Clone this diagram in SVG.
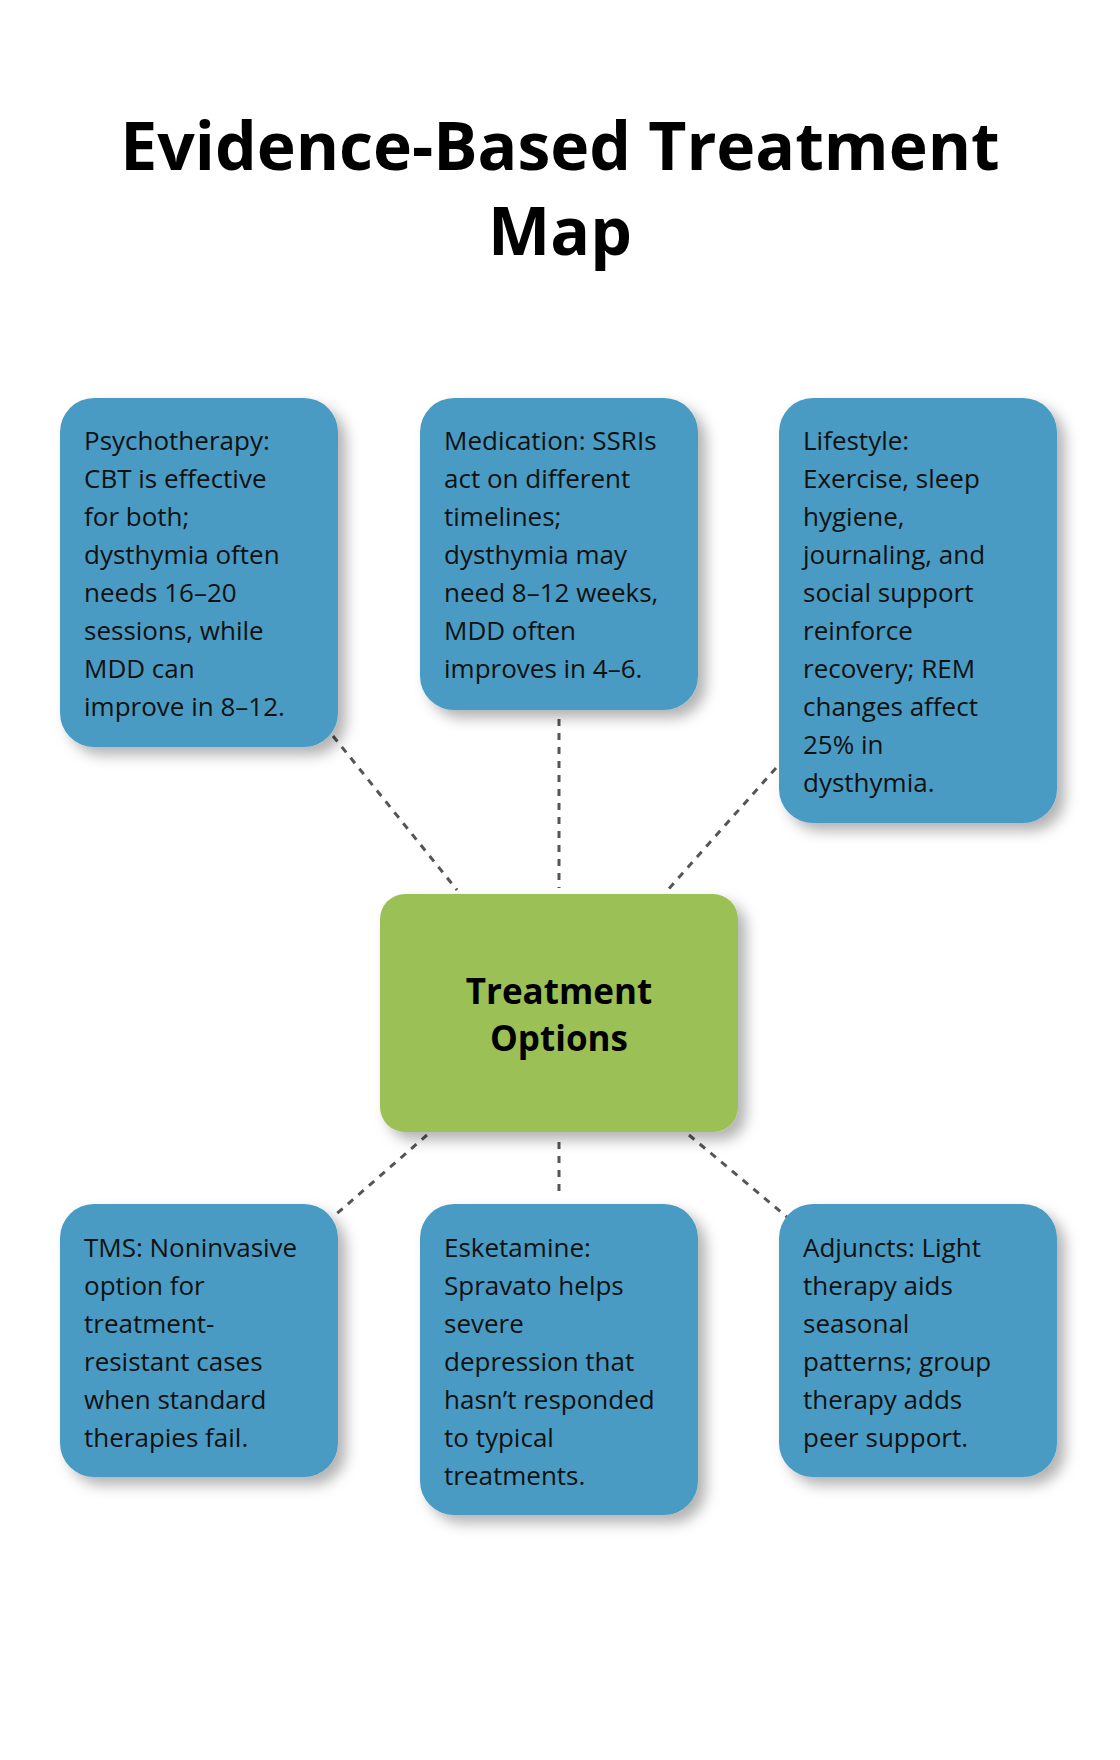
<svg xmlns="http://www.w3.org/2000/svg" width="1120" height="1760" viewBox="0 0 1120 1760">
<style>
.t{font-family:"Open Sans","Noto Sans",sans-serif;}
.title{font-size:66px;font-weight:bold;fill:#000;text-anchor:middle;}
.box{fill:#4A9BC4;filter:url(#sh);}
.ctr{fill:#9BC057;filter:url(#sh);}
.lbl{font-size:26px;fill:#111;}
.cl{font-size:35px;font-weight:bold;fill:#000;text-anchor:middle;}
.con{stroke:#555;stroke-width:3;stroke-dasharray:7 7;fill:none;}
</style>
<defs>
<filter id="sh" x="-20%" y="-20%" width="140%" height="140%">
<feDropShadow dx="8" dy="8" stdDeviation="7" flood-color="#000" flood-opacity="0.3"/>
</filter>
</defs>
<rect width="1120" height="1760" fill="#fff"/>
<g id="title" class="t title"><text x="560" y="170">Evidence-Based Treatment</text><text x="560" y="255">Map</text></g>
<g id="connectors">
<line class="con" x1="333" y1="736" x2="457" y2="890"/>
<line class="con" x1="559" y1="719" x2="559" y2="888"/>
<line class="con" x1="776" y1="768" x2="665" y2="893"/>
<line class="con" x1="427" y1="1135" x2="333" y2="1217"/>
<line class="con" x1="559" y1="1142" x2="559" y2="1196"/>
<line class="con" x1="689" y1="1135" x2="787" y2="1217"/>
</g>
<g id="center"><rect class="ctr" x="380" y="894" width="358" height="238" rx="25"/>
<text class="t cl" x="559" y="1004">Treatment</text><text class="t cl" x="559" y="1051">Options</text></g>
<g id="psychotherapy"><rect class="box" x="60" y="398" width="278" height="349" rx="34"/>
<text class="t lbl"><tspan x="84" y="450">Psychotherapy:</tspan><tspan x="84" dy="38">CBT is effective</tspan><tspan x="84" dy="38">for both;</tspan><tspan x="84" dy="38">dysthymia often</tspan><tspan x="84" dy="38">needs 16–20</tspan><tspan x="84" dy="38">sessions, while</tspan><tspan x="84" dy="38">MDD can</tspan><tspan x="84" dy="38">improve in 8–12.</tspan></text></g>
<g id="medication"><rect class="box" x="420" y="398" width="278" height="312" rx="34"/>
<text class="t lbl"><tspan x="444" y="450">Medication: SSRIs</tspan><tspan x="444" dy="38">act on different</tspan><tspan x="444" dy="38">timelines;</tspan><tspan x="444" dy="38">dysthymia may</tspan><tspan x="444" dy="38">need 8–12 weeks,</tspan><tspan x="444" dy="38">MDD often</tspan><tspan x="444" dy="38">improves in 4–6.</tspan></text></g>
<g id="lifestyle"><rect class="box" x="779" y="398" width="278" height="425" rx="34"/>
<text class="t lbl"><tspan x="803" y="450">Lifestyle:</tspan><tspan x="803" dy="38">Exercise, sleep</tspan><tspan x="803" dy="38">hygiene,</tspan><tspan x="803" dy="38">journaling, and</tspan><tspan x="803" dy="38">social support</tspan><tspan x="803" dy="38">reinforce</tspan><tspan x="803" dy="38">recovery; REM</tspan><tspan x="803" dy="38">changes affect</tspan><tspan x="803" dy="38">25% in</tspan><tspan x="803" dy="38">dysthymia.</tspan></text></g>
<g id="tms"><rect class="box" x="60" y="1204" width="278" height="273" rx="34"/>
<text class="t lbl"><tspan x="84" y="1257">TMS: Noninvasive</tspan><tspan x="84" dy="38">option for</tspan><tspan x="84" dy="38">treatment-</tspan><tspan x="84" dy="38">resistant cases</tspan><tspan x="84" dy="38">when standard</tspan><tspan x="84" dy="38">therapies fail.</tspan></text></g>
<g id="esketamine"><rect class="box" x="420" y="1204" width="278" height="311" rx="34"/>
<text class="t lbl"><tspan x="444" y="1257">Esketamine:</tspan><tspan x="444" dy="38">Spravato helps</tspan><tspan x="444" dy="38">severe</tspan><tspan x="444" dy="38">depression that</tspan><tspan x="444" dy="38">hasn’t responded</tspan><tspan x="444" dy="38">to typical</tspan><tspan x="444" dy="38">treatments.</tspan></text></g>
<g id="adjuncts"><rect class="box" x="779" y="1204" width="278" height="273" rx="34"/>
<text class="t lbl"><tspan x="803" y="1257">Adjuncts: Light</tspan><tspan x="803" dy="38">therapy aids</tspan><tspan x="803" dy="38">seasonal</tspan><tspan x="803" dy="38">patterns; group</tspan><tspan x="803" dy="38">therapy adds</tspan><tspan x="803" dy="38">peer support.</tspan></text></g>
</svg>
